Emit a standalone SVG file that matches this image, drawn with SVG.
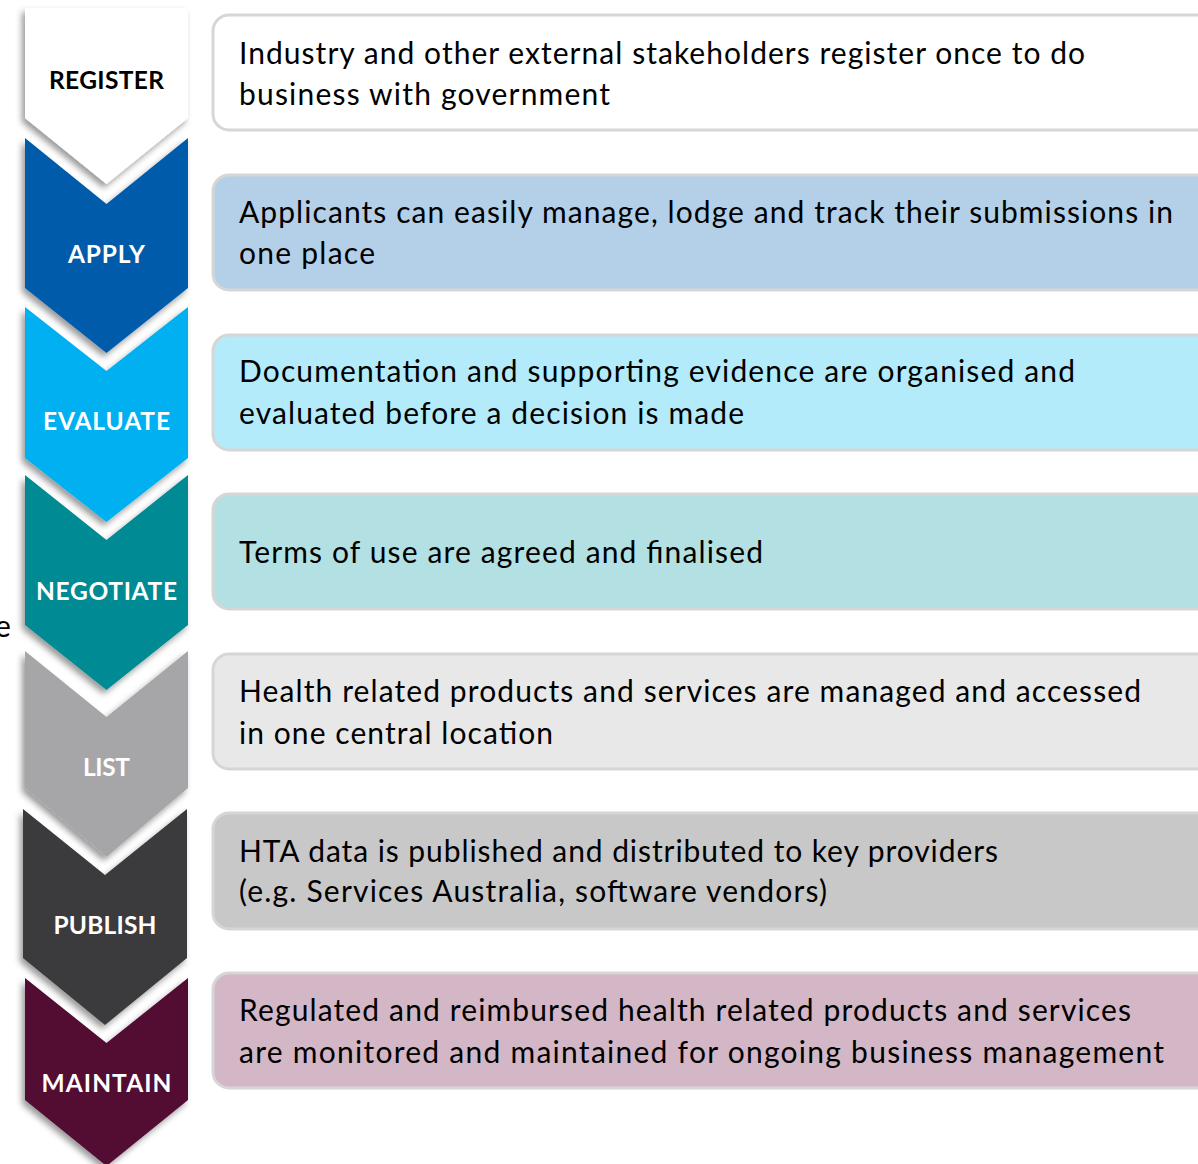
<svg xmlns="http://www.w3.org/2000/svg" width="1198" height="1164" viewBox="0 0 1198 1164">
<defs>
<filter id="sh" x="-20%" y="-20%" width="140%" height="140%">
<feDropShadow dx="-3" dy="4" stdDeviation="3" flood-color="#000" flood-opacity="0.4"/>
</filter>
</defs>
<style>
.box{stroke:#d6d6d6;stroke-width:3}
.t{font-family:Lato,"Liberation Sans",sans-serif;font-size:30px;fill:#000}
.lbl{font-family:Lato,"Liberation Sans",sans-serif;font-weight:bold;font-size:24.5px;text-anchor:middle}
.w{fill:#fff}
.chev{filter:url(#sh)}
</style>
<rect width="1198" height="1164" fill="#fff"/>
<text class="t" x="-5" y="637">e</text>
<g id="connectors"/>
<g id="register">
<polygon class="chev" points="25,8 188,8 188,118 106.5,184 25,118" fill="#ffffff"/>
<text class="lbl" x="106.5" y="89" fill="#000" textLength="115">REGISTER</text>
</g>
<g id="apply">
<polygon class="chev" points="25,138 106.5,204 188,138 188,288 106.5,353 25,288" fill="#005bab"/>
<text class="lbl w" x="106.5" y="263" textLength="77">APPLY</text>
</g>
<g id="evaluate">
<polygon class="chev" points="25,307 106.5,371 188,307 188,458 106.5,522 25,458" fill="#00b0f0"/>
<text class="lbl w" x="106.5" y="430" textLength="127">EVALUATE</text>
</g>
<g id="negotiate">
<polygon class="chev" points="25,475 106.5,540 188,475 188,625 106.5,690 25,625" fill="#008a93"/>
<text class="lbl w" x="106.5" y="600" textLength="141">NEGOTIATE</text>
</g>
<g id="list">
<polygon class="chev" points="25,651 106.5,717 188,651 188,788 106.5,857 25,788" fill="#a6a6a8"/>
<text class="lbl w" x="106.5" y="776" textLength="47">LIST</text>
</g>
<g id="publish">
<polygon class="chev" points="23,809 105,875 187,809 187,958 105,1025 23,958" fill="#3a3a3c"/>
<text class="lbl w" x="105" y="934" textLength="103">PUBLISH</text>
</g>
<g id="maintain">
<polygon class="chev" points="25,978 106.5,1043 188,978 188,1100 106.5,1166 25,1100" fill="#520a33"/>
<text class="lbl w" x="106.5" y="1092" textLength="130">MAINTAIN</text>
</g>
<g id="box-register">
<rect class="box" x="213" y="15" width="1000" height="115" rx="16" fill="#ffffff"/>
<text class="t" x="239" y="64" textLength="846">Industry and other external stakeholders register once to do</text>
<text class="t" x="239" y="105" textLength="371">business with government</text>
</g>
<g id="box-apply">
<rect class="box" x="213" y="175" width="1000" height="115" rx="16" fill="#b4d0e8"/>
<text class="t" x="239" y="223" textLength="934">Applicants can easily manage, lodge and track their submissions in</text>
<text class="t" x="239" y="264" textLength="136">one place</text>
</g>
<g id="box-evaluate">
<rect class="box" x="213" y="335" width="1000" height="115" rx="16" fill="#b3ebfb"/>
<text class="t" x="239" y="382" textLength="836">Documentation and supporting evidence are organised and</text>
<text class="t" x="239" y="424" textLength="505">evaluated before a decision is made</text>
</g>
<g id="box-negotiate">
<rect class="box" x="213" y="494" width="1000" height="115" rx="16" fill="#b3e0e3"/>
<text class="t" x="239" y="563" textLength="524">Terms of use are agreed and finalised</text>
</g>
<g id="box-list">
<rect class="box" x="213" y="654" width="1000" height="115" rx="16" fill="#e8e8e8"/>
<text class="t" x="239" y="702" textLength="902">Health related products and services are managed and accessed</text>
<text class="t" x="239" y="744" textLength="314">in one central location</text>
</g>
<g id="box-publish">
<rect class="box" x="213" y="813" width="1000" height="116" rx="16" fill="#c8c8c8"/>
<text class="t" x="239" y="862" textLength="759">HTA data is published and distributed to key providers</text>
<text class="t" x="239" y="902" textLength="588">(e.g. Services Australia, software vendors)</text>
</g>
<g id="box-maintain">
<rect class="box" x="213" y="973" width="1000" height="115" rx="16" fill="#d3b7c6"/>
<text class="t" x="239" y="1021" textLength="892">Regulated and reimbursed health related products and services</text>
<text class="t" x="239" y="1063" textLength="925">are monitored and maintained for ongoing business management</text>
</g>
</svg>
